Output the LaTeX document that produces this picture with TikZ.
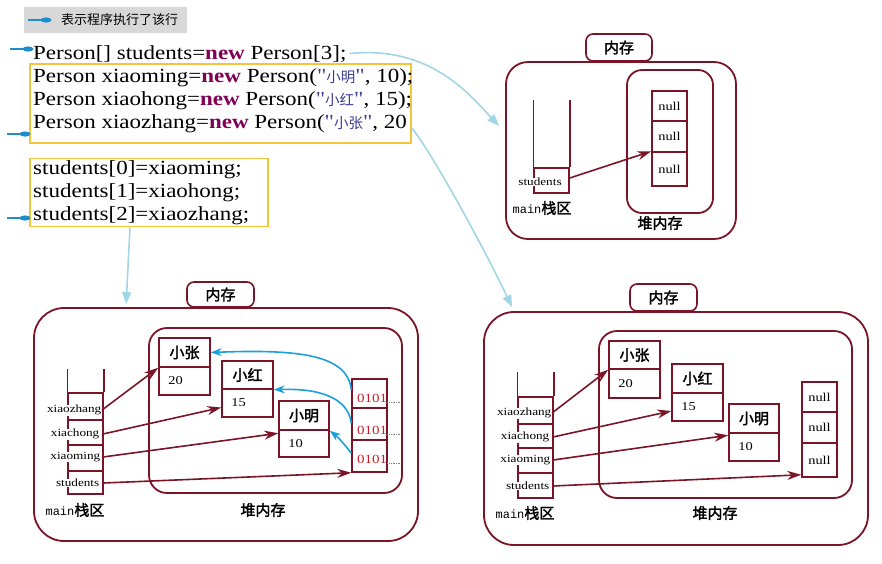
\documentclass[tikz,border=0pt]{standalone}
\usepackage{fontspec}
\setmainfont{Liberation Serif}
\newfontfamily\codefont[FakeStretch=1.15]{Liberation Serif}
\newfontfamily\smfont[FakeStretch=1.2]{Liberation Serif}
\newfontfamily\monofont{Liberation Mono}
\newfontfamily\cjk{Noto Sans CJK SC}
\newfontfamily\cjkb[FakeBold=2]{Noto Sans CJK SC}
\usetikzlibrary{arrows.meta}
\definecolor{mred}{RGB}{122,20,38}
\definecolor{hblue}{RGB}{27,160,220}
\definecolor{lblue}{RGB}{160,214,230}
\definecolor{ybox}{RGB}{244,196,60}
\definecolor{leggray}{RGB}{216,216,216}
\definecolor{kwpurple}{RGB}{127,0,85}
\definecolor{strblue}{RGB}{60,60,150}
\definecolor{bitred}{RGB}{200,30,40}
\definecolor{pinblue}{RGB}{30,140,205}
\newcommand\kw[1]{{\bfseries\color{kwpurple}#1}}
\newcommand\zh[1]{{\color{strblue}"{\cjk\fontsize{14.5}{23}\selectfont #1}"}}
\begin{document}
\begin{tikzpicture}[x=1pt,y=-1pt,
  every node/.style={inner sep=0pt},
  cellbox/.style={draw=mred,line width=1.5pt,fill=white},
  memframe/.style={draw=mred,line width=1.8pt,rounded corners=#1},
  tag/.style={draw=mred,line width=1.6pt,fill=white,rounded corners=7pt,font=\cjkb\fontsize{15}{15}\selectfont},
  heading/.style={font=\cjkb\fontsize{15}{15}\selectfont},
  varlab/.style={font=\smfont\fontsize{11}{11}\selectfont,fill=white,inner sep=0.5pt},
  numlab/.style={font=\smfont\fontsize{12}{12}\selectfont},
  bitlab/.style={font=\smfont\fontsize{12.5}{12.5}\selectfont,text=bitred,anchor=west},
  mainlab/.style={font=\monofont\fontsize{12}{12}\selectfont},
  refarrow/.style={draw=mred,line width=1.6pt,-{Stealth[length=14pt,width=9pt]}},
  ptrarrow/.style={draw=hblue,line width=1.6pt,-{Stealth[length=11pt,width=8pt]}},
  guide/.style={draw=lblue,line width=1.6pt,-{Triangle[length=12pt,width=9pt]}},
  codeline/.style={anchor=base west,font=\codefont\fontsize{20}{23}\selectfont},
  codebox/.style={draw=ybox,line width=1.6pt},
  stackline/.style={draw=mred,line width=1.5pt},
  pics/execmark/.style={code={
    \draw[pinblue,line width=1.5pt] (-18,0) -- (0,0);
    \fill[pinblue] (0,0) ellipse (5.5pt and 2.6pt);}}
]
\useasboundingbox (0,0) rectangle (882,563);

% ---------- legend ----------
\node[fill=leggray,minimum width=163pt,minimum height=26pt] (leg) at (105.5,20) {};
\pic at (46,20) {execmark};
\node[font=\cjk\fontsize{13}{13}\selectfont,anchor=west] (legtxt) at (61,20) {表示程序执行了该行};

% ---------- code ----------
\node[codebox,minimum width=381pt,minimum height=79pt] (yb1) at (220.5,103.5) {};
\node[codebox,minimum width=238pt,minimum height=68pt] (yb2) at (149,192.5) {};
\node[codeline] (c1) at (33,59) {Person[] students=\kw{new} Person[3];};
\node[codeline] (c2) at (33,82) {Person xiaoming=\kw{new} Person(\zh{小明}, 10);};
\node[codeline] (c3) at (33,105) {Person xiaohong=\kw{new} Person(\zh{小红}, 15);};
\node[codeline] (c4) at (33,128) {Person xiaozhang=\kw{new} Person(\zh{小张}, 20};
\node[codeline] (d1) at (33,174) {students[0]=xiaoming;};
\node[codeline] (d2) at (33,197) {students[1]=xiaohong;};
\node[codeline] (d3) at (33,220) {students[2]=xiaozhang;};
\pic at (28,49) {execmark};
\pic at (25,134) {execmark};
\pic at (25,218) {execmark};

% ---------- top right memory ----------
\node[memframe=22pt,minimum width=230pt,minimum height=177pt] (Tmem) at (621,150.5) {};
\node[tag,minimum width=66pt,minimum height=27pt] (Ttag) at (619,47.5) {内存};
\node[memframe=15pt,minimum width=86pt,minimum height=143pt] (Theap) at (670,141.5) {};
\node[cellbox,minimum width=35pt,minimum height=25pt] (Ts1) at (551.5,180.5) {};
\draw[stackline] (Ts1.north west) -- +(0,-67);
\draw[stackline] (Ts1.north east) -- +(0,-67);
\node[varlab] (Tl1) at (540,182) {students};
\node[cellbox,numlab,minimum width=35pt,minimum height=30pt] (Tn1) at (669.5,106) {null};
\node[cellbox,numlab,minimum width=35pt,minimum height=31pt] (Tn2) at (669.5,136.5) {null};
\node[cellbox,numlab,minimum width=35pt,minimum height=34pt] (Tn3) at (669.5,169) {null};
\draw[refarrow] ([yshift=2.5pt]Ts1.east) -- (Tn3.north west);
\node[mainlab] (Tmain) at (542,208) {main{\cjkb\fontsize{15}{15}\selectfont 栈区}};
\node[heading] (Theaplab) at (660,223) {堆内存};

% ---------- bottom left memory ----------
\node[memframe=30pt,minimum width=384pt,minimum height=233pt] (Lmem) at (226,424.5) {};
\node[tag,minimum width=67pt,minimum height=25pt] (Ltag) at (220.5,294.5) {内存};
\node[memframe=18pt,minimum width=253pt,minimum height=165pt] (Lheap) at (275.5,410.5) {};
\node[cellbox,minimum width=35pt,minimum height=27pt] (Ls1) at (85.5,406.5) {};
\node[cellbox,minimum width=35pt,minimum height=25pt] (Ls2) at (85.5,432.5) {};
\node[cellbox,minimum width=35pt,minimum height=26pt] (Ls3) at (85.5,458) {};
\node[cellbox,minimum width=35pt,minimum height=23pt] (Ls4) at (85.5,482.5) {};
\draw[stackline] (Ls1.north west) -- +(0,-23);
\draw[stackline] (Ls1.north east) -- +(0,-23);
\node[varlab,anchor=east] (Ll1) at (102,410) {xiaozhang};
\node[varlab,anchor=east] (Ll2) at (100,434) {xiachong};
\node[varlab,anchor=east] (Ll3) at (101,457) {xiaoming};
\node[varlab,anchor=east] (Ll4) at (100,483) {students};
\node[mainlab] (Lmain) at (75,510) {main{\cjkb\fontsize{15}{15}\selectfont 栈区}};
\node[heading] (Lheaplab) at (263,510) {堆内存};
% objects
\node[cellbox,heading,minimum width=51pt,minimum height=29pt] (LzH) at (184.5,352.5) {小张};
\node[cellbox,minimum width=51pt,minimum height=28pt] (LzV) at (184.5,381) {};
\node[numlab,anchor=west] at ([xshift=10pt]LzV.west) {20};
\node[cellbox,heading,minimum width=51pt,minimum height=28pt] (LhH) at (247.5,375) {小红};
\node[cellbox,minimum width=51pt,minimum height=28pt] (LhV) at (247.5,403) {};
\node[numlab,anchor=west] at ([xshift=10pt]LhV.west) {15};
\node[cellbox,heading,minimum width=50pt,minimum height=29pt] (LmH) at (304,415.5) {小明};
\node[cellbox,minimum width=50pt,minimum height=27pt] (LmV) at (304,443.5) {};
\node[numlab,anchor=west] at ([xshift=10pt]LmV.west) {10};
% array
\node[cellbox,minimum width=35pt,minimum height=29pt] (La1) at (369.5,393.5) {};
\node[cellbox,minimum width=35pt,minimum height=32pt] (La2) at (369.5,424) {};
\node[cellbox,minimum width=35pt,minimum height=32pt] (La3) at (369.5,456) {};
\node[bitlab] (Lb1) at (357,398) {0101};
\node[bitlab] (Lb2) at (357,430) {0101};
\node[bitlab] (Lb3) at (357,459) {0101};
\draw[densely dotted,gray,line width=0.7pt] ([yshift=-4pt]Lb1.east) -- +(12,0);
\draw[densely dotted,gray,line width=0.7pt] ([yshift=-4pt]Lb2.east) -- +(12,0);
\draw[densely dotted,gray,line width=0.7pt] ([yshift=-4pt]Lb3.east) -- +(12,0);
% references
\draw[refarrow] (Ll1.east) -- (LzH.south west);
\draw[refarrow] ([xshift=3pt]Ll2.east) -- ([yshift=-4.5pt]LhV.west);
\draw[refarrow] ([xshift=2pt]Ll3.east) -- ([yshift=-4pt]LmV.north west);
\draw[refarrow] ([xshift=3pt]Ll4.east) -- (La3.south west);
\draw[ptrarrow] ([yshift=3.5pt]La1.west) .. controls (348,355) and (300,349) .. (LzH.east);
\draw[ptrarrow] ([yshift=1pt]La2.west) .. controls (348,398) and (320,388) .. (LhH.south east);
\draw[ptrarrow] ([yshift=3pt]La3.west) .. controls (345,445) and (338,437) .. (LmH.south east);

% ---------- bottom right memory ----------
\node[memframe=30pt,minimum width=384pt,minimum height=233pt] (Rmem) at (676,428.5) {};
\node[tag,minimum width=67pt,minimum height=27pt] (Rtag) at (663.5,297.5) {内存};
\node[memframe=18pt,minimum width=253pt,minimum height=167pt] (Rheap) at (725.5,414.5) {};
\node[cellbox,minimum width=35pt,minimum height=27pt] (Rs1) at (535.5,410.5) {};
\node[cellbox,minimum width=35pt,minimum height=24pt] (Rs2) at (535.5,436) {};
\node[cellbox,minimum width=35pt,minimum height=25pt] (Rs3) at (535.5,460.5) {};
\node[cellbox,minimum width=35pt,minimum height=25pt] (Rs4) at (535.5,485.5) {};
\draw[stackline] (Rs1.north west) -- +(0,-24);
\draw[stackline] (Rs1.north east) -- +(0,-24);
\node[varlab,anchor=east] (Rl1) at (552,413) {xiaozhang};
\node[varlab,anchor=east] (Rl2) at (550,437) {xiachong};
\node[varlab,anchor=east] (Rl3) at (551,460) {xiaoming};
\node[varlab,anchor=east] (Rl4) at (550,486) {students};
\node[mainlab] (Rmain) at (525,513) {main{\cjkb\fontsize{15}{15}\selectfont 栈区}};
\node[heading] (Rheaplab) at (715,513) {堆内存};
\node[cellbox,heading,minimum width=51pt,minimum height=28pt] (RzH) at (634.5,355) {小张};
\node[cellbox,minimum width=51pt,minimum height=29pt] (RzV) at (634.5,383.5) {};
\node[numlab,anchor=west] at ([xshift=10pt]RzV.west) {20};
\node[cellbox,heading,minimum width=51pt,minimum height=29pt] (RhH) at (697.5,378.5) {小红};
\node[cellbox,minimum width=51pt,minimum height=28pt] (RhV) at (697.5,407) {};
\node[numlab,anchor=west] at ([xshift=10pt]RhV.west) {15};
\node[cellbox,heading,minimum width=50pt,minimum height=29pt] (RmH) at (754,418.5) {小明};
\node[cellbox,minimum width=50pt,minimum height=28pt] (RmV) at (754,447) {};
\node[numlab,anchor=west] at ([xshift=10pt]RmV.west) {10};
\node[cellbox,numlab,minimum width=35pt,minimum height=30pt] (Rn1) at (819.5,397) {null};
\node[cellbox,numlab,minimum width=35pt,minimum height=31pt] (Rn2) at (819.5,427.5) {null};
\node[cellbox,numlab,minimum width=35pt,minimum height=34pt] (Rn3) at (819.5,460) {null};
\draw[refarrow] (Rl1.east) -- (RzH.south west);
\draw[refarrow] ([xshift=3pt]Rl2.east) -- ([yshift=-4pt]RhV.west);
\draw[refarrow] ([xshift=2pt]Rl3.east) -- ([yshift=-3pt]RmV.north west);
\draw[refarrow] ([xshift=3pt]Rl4.east) -- ([yshift=3pt]Rn3.south west);

% ---------- guide arrows ----------
\draw[guide] ([xshift=3pt]c1.east) .. controls (430,45) and (470,95) .. ([xshift=-6pt,yshift=24.5pt]Tmem.west);
\draw[guide] ([yshift=-24.5pt]yb1.east) .. controls (430,150) and (480,240) .. ([xshift=29pt,yshift=4pt]Rmem.north west);
\draw[guide] ([xshift=-19pt]yb2.south) -- ([xshift=93pt,yshift=3pt]Lmem.north west);
\end{tikzpicture}
\end{document}
